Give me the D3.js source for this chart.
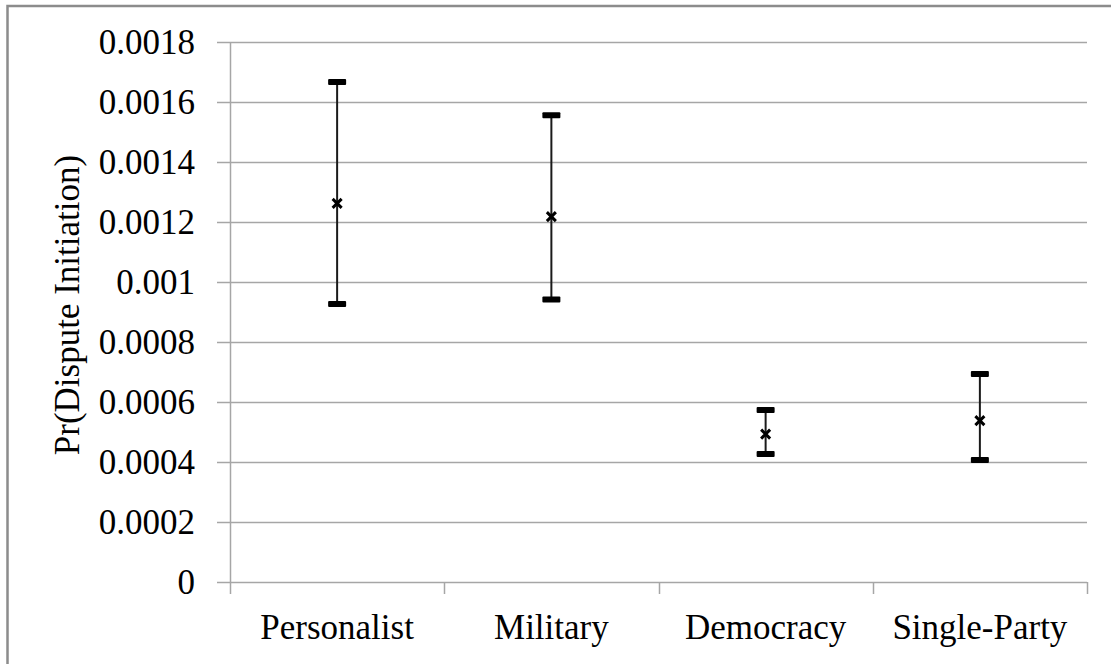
<!DOCTYPE html>
<html>
<head>
<meta charset="utf-8">
<script src="https://cdn.jsdelivr.net/npm/d3@7"></script>
<style>
  body { margin: 0; background: #fff; }
  svg { display: block; }
</style>
</head>
<body>
<div id="chart"></div>
<script>
// Chart size
const width = 1111;
const height = 664;

// Data
const categories = ["Personalist", "Military", "Democracy", "Single-Party"];
const estimates = [0.001262, 0.001218, 0.000493, 0.000538];
const upperBounds = [0.001667, 0.001556, 0.000573, 0.000693];
const lowerBounds = [0.000927, 0.000942, 0.000427, 0.000407];
const yTicks = [0, 0.0002, 0.0004, 0.0006, 0.0008, 0.001, 0.0012, 0.0014, 0.0016, 0.0018];
const yTickLabels = ["0", "0.0002", "0.0004", "0.0006", "0.0008", "0.001", "0.0012", "0.0014", "0.0016", "0.0018"];

const rows = categories.map((c, i) => ({
    name: c, est: estimates[i], hi: upperBounds[i], lo: lowerBounds[i]
}));

// Plot area
const margin = { top: 42, right: 24, bottom: 82, left: 230 };
const fontFamily = "Liberation Serif";
const gridColor = "#a6a6a6";

const svg = d3.select("#chart").append("svg")
    .attr("width", width)
    .attr("height", height);

// Outer chart border
svg.append("rect")
    .attr("x", 7.5)
    .attr("y", 6)
    .attr("width", width + 10)
    .attr("height", height + 10)
    .attr("fill", "none")
    .attr("stroke", "#8c8c8c")
    .attr("stroke-width", 2.5);

const x = d3.scaleBand()
    .domain(categories)
    .range([margin.left, width - margin.right]);

const y = d3.scaleLinear()
    .domain([0, 0.0018])
    .range([height - margin.bottom, margin.top]);

// Horizontal gridlines with outward ticks
svg.append("g")
    .selectAll("line")
    .data(yTicks)
    .join("line")
    .attr("x1", margin.left - 13)
    .attr("x2", width - margin.right)
    .attr("y1", d => Math.round(y(d)) + 0.5)
    .attr("y2", d => Math.round(y(d)) + 0.5)
    .attr("stroke", gridColor)
    .attr("stroke-width", 1.5);

// Y tick labels
svg.append("g")
    .selectAll("text")
    .data(yTicks)
    .join("text")
    .attr("x", margin.left - 35)
    .attr("y", d => y(d))
    .attr("dy", "0.35em")
    .attr("text-anchor", "end")
    .attr("font-family", fontFamily)
    .attr("font-size", 35)
    .attr("fill", "#000")
    .text((d, i) => yTickLabels[i]);

// Vertical axis line
svg.append("line")
    .attr("x1", margin.left + 0.5)
    .attr("x2", margin.left + 0.5)
    .attr("y1", margin.top)
    .attr("y2", height - margin.bottom)
    .attr("stroke", gridColor)
    .attr("stroke-width", 1.5);

// X axis ticks at band boundaries
const boundaries = categories.map(c => x(c)).concat([x.range()[1]]);
svg.append("g")
    .selectAll("line")
    .data(boundaries)
    .join("line")
    .attr("x1", d => Math.round(d) + 0.5)
    .attr("x2", d => Math.round(d) + 0.5)
    .attr("y1", y(0))
    .attr("y2", y(0) + 12)
    .attr("stroke", gridColor)
    .attr("stroke-width", 1.5);

// X labels
svg.append("g")
    .selectAll("text")
    .data(categories)
    .join("text")
    .attr("x", d => x(d) + x.bandwidth() / 2)
    .attr("y", 639)
    .attr("text-anchor", "middle")
    .attr("font-family", fontFamily)
    .attr("font-size", 35)
    .attr("fill", "#000")
    .text(d => d);

// Y axis title
svg.append("text")
    .attr("transform", `translate(79, ${(y(0) + y(0.0018)) / 2 - 7}) rotate(-90)`)
    .attr("text-anchor", "middle")
    .attr("font-family", fontFamily)
    .attr("font-size", 35)
    .attr("fill", "#000")
    .text("Pr(Dispute Initiation)");

// Error bars
const bars = svg.append("g")
    .selectAll("g")
    .data(rows)
    .join("g")
    .attr("transform", d => `translate(${x(d.name) + x.bandwidth() / 2}, 0)`);

bars.append("line")
    .attr("x1", 0).attr("x2", 0)
    .attr("y1", d => y(d.hi))
    .attr("y2", d => y(d.lo))
    .attr("stroke", "#1a1a1a")
    .attr("stroke-width", 2);

bars.selectAll("rect.cap")
    .data(d => [d.hi, d.lo])
    .join("rect")
    .attr("class", "cap")
    .attr("x", -9)
    .attr("y", d => y(d) - 3)
    .attr("width", 18)
    .attr("height", 6)
    .attr("rx", 1)
    .attr("fill", "#000");

// X markers for the point estimates
bars.append("path")
    .attr("d", d => {
        const cy = y(d.est), s = 4.5;
        return `M${-s},${cy - s}L${s},${cy + s}M${-s},${cy + s}L${s},${cy - s}`;
    })
    .attr("stroke", "#000")
    .attr("stroke-width", 3)
    .attr("fill", "none");
</script>
</body>
</html>
